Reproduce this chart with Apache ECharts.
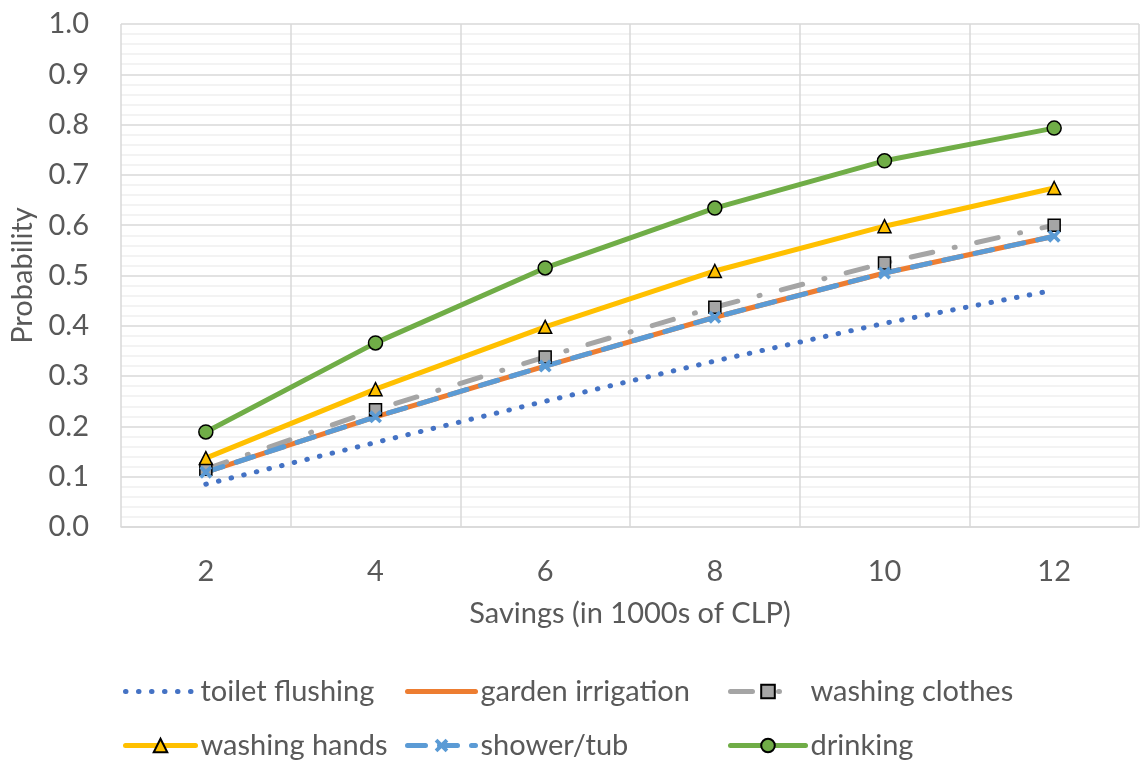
<!DOCTYPE html>
<html>
<head>
<meta charset="utf-8">
<script src="https://cdn.jsdelivr.net/npm/echarts@6/dist/echarts.min.js"></script>
<style>
  html, body { margin: 0; padding: 0; background: #fff; }
  #chart { width: 1140px; height: 765px; }
</style>
</head>
<body>
<div id="chart"></div>
<script>
// Savings levels (thousands of CLP)
const savings = ['2', '4', '6', '8', '10', '12'];

// Probability of each water use at each savings level
const toiletFlushing   = [0.085, 0.168, 0.250, 0.330, 0.405, 0.471];
const gardenIrrigation = [0.109, 0.219, 0.320, 0.417, 0.505, 0.578];
const washingClothes   = [0.115, 0.233, 0.338, 0.437, 0.525, 0.600];
const washingHands     = [0.137, 0.274, 0.398, 0.509, 0.598, 0.674];
const showerTub        = [0.109, 0.219, 0.320, 0.417, 0.505, 0.578];
const drinking         = [0.189, 0.366, 0.515, 0.634, 0.728, 0.793];

const FONT = 'Lato';
const TXT = '#595959';
const FS = 29;
const LW = 5;
const SYM = 13;
const cross = 'path://M2,0 L5,3 L8,0 L10,2 L7,5 L10,8 L8,10 L5,7 L2,10 L0,8 L3,5 L0,2 Z';

// One legend block per entry so the three columns line up like a table
function legendAt(name, left, top, width, opts) {
  opts = opts || {};
  const lg = {
    data: [name], left: left, top: top,
    itemWidth: width, itemHeight: 17, itemGap: 0, padding: 0,
    lineStyle: Object.assign({ width: LW }, opts.lineStyle || {}),
    textStyle: { fontFamily: FONT, fontSize: FS, color: TXT }
  };
  if (opts.hideSymbol) lg.itemStyle = { opacity: 0 };
  return lg;
}

const chart = echarts.init(document.getElementById('chart'), null, { renderer: 'canvas' });
chart.setOption({
  animation: false,
  textStyle: { fontFamily: FONT },
  grid: { left: 120, right: 1, top: 24, bottom: 238, containLabel: false },
  legend: [
    legendAt('toilet flushing', 123, 677, 70, { hideSymbol: true }),
    legendAt('garden irrigation', 405, 677, 68, { hideSymbol: true }),
    legendAt('washing clothes', 728, 677, 75, { lineStyle: { type: [22, 26, 1, 40], cap: 'round' } }),
    legendAt('washing hands', 123, 731, 70),
    legendAt('shower/tub', 405, 731, 68),
    legendAt('drinking', 728, 731, 75)
  ],
  xAxis: {
    type: 'category', data: savings, boundaryGap: true,
    name: 'Savings (in 1000s of CLP)', nameLocation: 'middle', nameGap: 72,
    nameTextStyle: { fontFamily: FONT, fontSize: FS, color: TXT },
    axisLine: { show: true, lineStyle: { color: '#D9D9D9', width: 1.5 } },
    axisTick: { show: false },
    axisLabel: { fontFamily: FONT, fontSize: FS, color: TXT, margin: 30 },
    splitLine: { show: true, showMinLine: true, showMaxLine: true, lineStyle: { color: '#D9D9D9', width: 1.5 } }
  },
  yAxis: {
    type: 'value', min: 0, max: 1, interval: 0.1,
    name: 'Probability', nameLocation: 'middle', nameGap: 84,
    nameTextStyle: { fontFamily: FONT, fontSize: FS, color: TXT },
    axisLine: { show: false }, axisTick: { show: false },
    axisLabel: { fontFamily: FONT, fontSize: FS, color: TXT, margin: 32, formatter: v => v.toFixed(1) },
    splitLine: { lineStyle: { color: '#D9D9D9', width: 1.5 } },
    minorTick: { show: false, splitNumber: 5 },
    minorSplitLine: { show: true, lineStyle: { color: '#EFEFEF', width: 1.5 } }
  },
  series: [
    {
      name: 'toilet flushing', type: 'line', data: toiletFlushing,
      symbol: 'none', color: '#4472C4',
      lineStyle: { color: '#4472C4', width: LW, type: [0.5, 12.5], cap: 'round' }
    },
    {
      name: 'garden irrigation', type: 'line', data: gardenIrrigation,
      symbol: 'none', color: '#ED7D31',
      lineStyle: { color: '#ED7D31', width: LW, cap: 'round' }
    },
    {
      name: 'washing clothes', type: 'line', data: washingClothes,
      symbol: 'rect', symbolSize: SYM - 1, color: '#A5A5A5',
      itemStyle: { color: '#A5A5A5', borderColor: '#000', borderWidth: 1.5 },
      lineStyle: { color: '#A5A5A5', width: LW, type: [22, 22, 1, 22], cap: 'round' }
    },
    {
      name: 'washing hands', type: 'line', data: washingHands,
      symbol: 'triangle', symbolSize: SYM, color: '#FFC000',
      itemStyle: { color: '#FFC000', borderColor: '#000', borderWidth: 1.5 },
      lineStyle: { color: '#FFC000', width: LW, cap: 'round' }
    },
    {
      name: 'shower/tub', type: 'line', data: showerTub,
      symbol: cross, symbolSize: SYM, color: '#5B9BD5',
      itemStyle: { color: '#5B9BD5' },
      lineStyle: { color: '#5B9BD5', width: LW, type: [18, 14], cap: 'round' }
    },
    {
      name: 'drinking', type: 'line', data: drinking,
      symbol: 'circle', symbolSize: SYM + 1, color: '#70AD47',
      itemStyle: { color: '#70AD47', borderColor: '#000', borderWidth: 1.5 },
      lineStyle: { color: '#70AD47', width: LW, cap: 'round' }
    }
  ]
});
</script>
</body>
</html>
